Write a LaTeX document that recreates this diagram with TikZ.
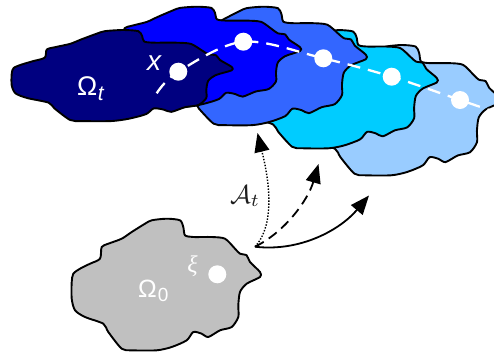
\documentclass[tikz,border=0pt]{standalone}
\usepackage{fontspec}
\setmainfont{Liberation Sans}
\newfontfamily\serifgreek{Liberation Serif}
\usetikzlibrary{arrows.meta}
\definecolor{cNavy}{RGB}{0,0,128}
\definecolor{cBlue}{RGB}{0,0,255}
\definecolor{cRoyal}{RGB}{51,102,255}
\definecolor{cCyan}{RGB}{0,204,255}
\definecolor{cLight}{RGB}{153,204,255}
\definecolor{cGray}{RGB}{192,192,192}
\definecolor{cLabel}{RGB}{30,30,30}
\tikzset{
  blob/.pic={
    \path[pic actions] plot[smooth cycle, tension=0.45] coordinates {
      (0,63.3) (1.6,55) (8.3,50) (18.3,45) (28.3,40) (30,28.3) (36.6,25)
      (50,20) (60,13.3) (73.3,5) (80,1.6) (95,0) (108.3,1.6) (111.6,8.3)
      (113.3,16.6) (121.6,18.3) (140,18.3) (153.3,20) (163.3,30) (168.3,35)
      (175,36.6) (178.3,43.3) (188.3,53.3) (188.3,58.3) (175,65) (168.3,73.3)
      (166.6,86.6) (166.6,98.3) (160,108.3) (148.3,111.6) (136.6,118.3)
      (130,115) (121.6,113.3) (115,121.6) (100,128.3) (85,131.6) (60,131.6)
      (50,130) (36.6,113.3) (31.6,105) (13.3,98.3) (3.3,91.6) (0,80)};
  }
}
\begin{document}
\begin{tikzpicture}[x=1pt,y=-1pt,
  blobline/.style={draw=black, line width=1.9pt, line join=round},
  dotw/.style={circle, fill=white, inner sep=0pt, minimum size=18pt},
  trail/.style={white, line width=2.3pt, dash pattern=on 13pt off 8pt},
  arr/.style={line width=1.8pt, -{Triangle[length=19pt,width=15pt]}},
  lbl/.style={inner sep=0pt, text=white}]
\useasboundingbox (0,0) rectangle (494,354);
% blobs, back to front
\pic[blobline, fill=cLight, xscale=1.05, yscale=0.99] (bLight) at (302,45) {blob};
\pic[blobline, fill=cCyan, xscale=1.045, yscale=0.898] (bCyan) at (240,30.1) {blob};
\pic[blobline, fill=cRoyal, xscale=1.1, yscale=0.9] (bRoyal) at (158.7,6.7) {blob};
\pic[blobline, fill=cBlue, xscale=1.108, yscale=0.76] (bBlue) at (91.4,6.7) {blob};
\pic[blobline, fill=cNavy, xscale=1.168, yscale=0.692] (bNavy) at (11.7,30) {blob};
\pic[blobline, fill=cGray] (bGray) at (71.7,218.7) {blob};
% trajectory
\coordinate (tStart) at (156.7,93.3);
\coordinate (p1) at (178.3,71.7);
\coordinate (p2) at (243.3,41.7);
\coordinate (p3) at (323.3,58.3);
\coordinate (p4) at (391.7,76.7);
\coordinate (p5) at (460,100);
\coordinate (tEnd) at (498,113);
\draw[trail] plot[smooth, tension=0.55] coordinates {(tStart) (p1) (p2) (p3) (p4) (p5) (tEnd)};
\node[dotw] (d1) at (p1) {};
\node[dotw] (d2) at (p2) {};
\node[dotw] (d3) at (p3) {};
\node[dotw] (d4) at (p4) {};
\node[dotw] (d5) at (p5) {};
\node[dotw] (d0) at (217.3,274.3) {};
% arrows
\coordinate (src) at (255,246.7);
\coordinate (tA) at (257.5,133);
\coordinate (tB) at (318.5,164);
\coordinate (tC) at (369,195.5);
\draw[arr, line width=1.4pt, dash pattern=on 1.4pt off 1.6pt] (src) .. controls (280,220) and (264,160) .. (tA);
\draw[arr, dash pattern=on 10pt off 6pt] (src) .. controls (285,232) and (308,200) .. (tB);
\draw[arr] (src) .. controls (300,252) and (340,230) .. (tC);
% labels
\node[lbl, anchor=base west] (lOt) at (77,95) {\fontsize{27}{27}\selectfont Ω\kern0.5pt\raisebox{-5pt}{\fontsize{21}{21}\selectfont\itshape t}};
\node[lbl, anchor=base west] (lx) at (147,70.5) {\fontsize{28}{28}\selectfont\itshape x};
\node[lbl, anchor=base west] (lO0) at (138,297.5) {\fontsize{25}{25}\selectfont Ω\kern1pt\raisebox{-3.5pt}{\fontsize{19}{19}\selectfont 0}};
\node[lbl, anchor=base] (lxi) at (192.5,272.5) {\fontsize{24}{24}\selectfont\serifgreek\itshape ξ};
\node[inner sep=0pt, anchor=base west, text=cLabel] (lA) at (230,203) {\scalebox{2.6}{$\mathcal{A}_t$}};
\end{tikzpicture}
\end{document}
